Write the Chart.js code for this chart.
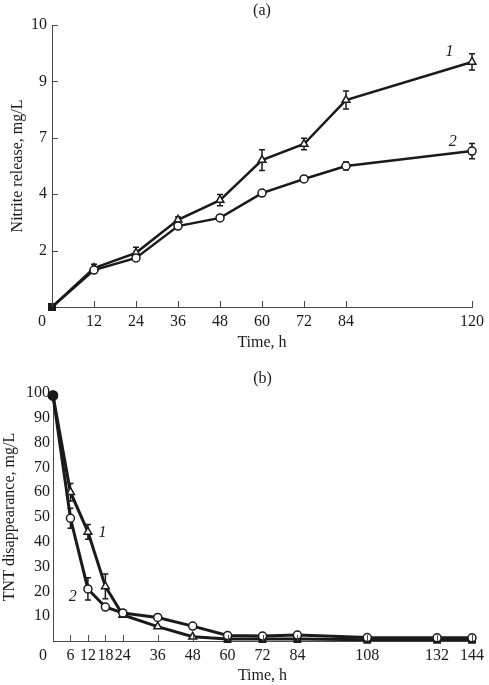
<!DOCTYPE html>
<html>
<head>
<meta charset="utf-8">
<title>Nitrite release and TNT disappearance</title>
<script src="https://cdn.jsdelivr.net/npm/chart.js@4.4.1/dist/chart.umd.min.js"></script>
<style>
  html, body { margin: 0; padding: 0; background: #fff; }
  body { width: 489px; height: 685px; position: relative; overflow: hidden; }
  canvas { position: absolute; left: 0; }
  #chartA { top: 0; }
  #chartB { top: 345px; }
</style>
</head>
<body>
<canvas id="chartA" width="489" height="360"></canvas>
<canvas id="chartB" width="489" height="340"></canvas>
<script>
// Panel (a): nitrite release
const hoursA = [0, 12, 24, 36, 48, 60, 72, 84, 120];
const nitrite1 = [0, 1.38, 1.92, 3.09, 3.79, 5.21, 5.78, 7.34, 8.69];
const nitrite2 = [0, 1.31, 1.74, 2.87, 3.16, 4.04, 4.54, 5.0, 5.53];
const nitriteErr1 = [0, 0.14, 0.2, 0.1, 0.2, 0.37, 0.2, 0.32, 0.29];
const nitriteErr2 = [0, 0.08, 0.08, 0.08, 0.08, 0.1, 0.1, 0.14, 0.27];
const xTicksA = [0, 12, 24, 36, 48, 60, 72, 84, 120];
const yTicksA = [0, 2, 4, 6, 8, 10];
const yLabelsA = ['', '2', '4', '7', '9', '10'];

// Panel (b): TNT disappearance
const hoursB = [0, 6, 12, 18, 24, 36, 48, 60, 72, 84, 108, 132, 144];
const tnt1 = [99, 60, 44, 22, 10.5, 5.8, 1.7, 0.8, 0.8, 0.8, 0.5, 0.5, 0.5];
const tnt2 = [99, 49.5, 21, 13.7, 11.3, 9.5, 6, 2.2, 2, 2.4, 1.4, 1.3, 1.3];
const tntErr1 = [0, 3.5, 3, 5, 0, 0, 0, 0, 0, 0, 0, 0, 0];
const tntErr2 = [0, 4, 4.5, 0, 0, 0, 0, 0, 0, 0, 0, 0, 0];
const xTicksB = [0, 6, 12, 18, 24, 36, 48, 60, 72, 84, 108, 132, 144];
const yTicksB = [0, 10, 20, 30, 40, 50, 60, 70, 80, 90, 100];
const yLabelsB = ['', '10', '20', '30', '40', '50', '60', '70', '80', '90', '100'];

const INK = '#1a1a1a';
const AXIS = '#4a4a4a';
const FONT = "'Liberation Serif', 'DejaVu Serif', serif";

// error bars, inside tick marks, captions and curve numbers
const decorPlugin = {
    id: 'decor',
    beforeDatasetsDraw(chart) {
        const { ctx, scales: { x, y } } = chart;
        ctx.save();
        ctx.strokeStyle = INK;
        ctx.lineWidth = 1.5;
        chart.data.datasets.forEach(ds => {
            ds.data.forEach((pt, i) => {
                const e = ds.errors[i];
                if (!e) return;
                const px = x.getPixelForValue(pt.x);
                const top = y.getPixelForValue(pt.y + e);
                const bot = y.getPixelForValue(pt.y - e);
                ctx.beginPath();
                ctx.moveTo(px, top); ctx.lineTo(px, bot);
                ctx.moveTo(px - 3, top); ctx.lineTo(px + 3, top);
                ctx.moveTo(px - 3, bot); ctx.lineTo(px + 3, bot);
                ctx.stroke();
            });
        });
        ctx.restore();
    },
    afterDraw(chart, args, opts) {
        const { ctx, chartArea, scales: { x, y } } = chart;
        ctx.save();
        ctx.strokeStyle = AXIS;
        ctx.lineWidth = 1;
        ctx.beginPath();
        x.ticks.forEach(t => {
            const px = Math.round(x.getPixelForValue(t.value)) + 0.5;
            ctx.moveTo(px, chartArea.bottom);
            ctx.lineTo(px, chartArea.bottom - 6);
        });
        if (opts.yMarks) {
            y.ticks.forEach(t => {
                if (t.value === 0) return;
                const py = Math.round(y.getPixelForValue(t.value)) + 0.5;
                ctx.moveTo(chartArea.left, py);
                ctx.lineTo(chartArea.left + 6, py);
            });
        }
        ctx.stroke();

        ctx.fillStyle = INK;
        ctx.textAlign = 'center';
        ctx.textBaseline = 'middle';
        ctx.font = '16px ' + FONT;
        ctx.fillText('0', x.getPixelForValue(0) - 10, chartArea.bottom + 15);
        ctx.fillText(opts.panel, (chartArea.left + chartArea.right) / 2, chartArea.top - 14);

        ctx.font = 'italic 16px ' + FONT;
        opts.curveLabels.forEach(c => {
            ctx.fillText(c.text, x.getPixelForValue(c.x), y.getPixelForValue(c.y));
        });
        ctx.restore();
    }
};

function series(xs, ys) {
    return xs.map((h, i) => ({ x: h, y: ys[i] }));
}

function makeDataset(xs, ys, errs, style, opts) {
    return {
        data: series(xs, ys),
        errors: errs,
        borderColor: INK,
        borderWidth: opts.lineWidth,
        pointStyle: ctx => ctx.dataIndex === 0 ? opts.originStyle
            : (opts.filledFrom !== undefined && ctx.raw.x >= opts.filledFrom ? 'rect' : style),
        pointRadius: ctx => ctx.dataIndex === 0 ? 4.5 : (style === 'triangle' ? 4.5 : 4),
        pointBorderWidth: 1.5,
        pointBorderColor: INK,
        pointBackgroundColor: ctx => (ctx.dataIndex === 0 ||
            (opts.filledFrom !== undefined && ctx.raw.x >= opts.filledFrom)) ? INK : '#fff',
        tension: 0,
        clip: false
    };
}

function makeScales(cfg) {
    const font = { family: FONT, size: 16 };
    return {
        x: {
            type: 'linear',
            min: cfg.xTicks[0],
            max: cfg.xTicks[cfg.xTicks.length - 1],
            afterBuildTicks: s => { s.ticks = cfg.xTicks.map(v => ({ value: v })); },
            afterFit: s => { s.height = cfg.xHeight; },
            grid: { display: false, drawTicks: false },
            border: { color: AXIS, width: 1 },
            ticks: {
                font, color: INK, padding: 5, autoSkip: false, maxRotation: 0,
                callback: v => v === 0 ? '' : String(v)
            },
            title: { display: true, text: 'Time, h', font, color: INK, padding: cfg.xTitlePad }
        },
        y: {
            min: cfg.yTicks[0],
            max: cfg.yTicks[cfg.yTicks.length - 1],
            afterBuildTicks: s => { s.ticks = cfg.yTicks.map(v => ({ value: v })); },
            afterFit: s => { s.width = cfg.yWidth; },
            grid: { display: false, drawTicks: false },
            border: { color: AXIS, width: 1 },
            ticks: {
                font, color: INK, padding: cfg.yTickPad, autoSkip: false,
                callback: v => cfg.yLabels[cfg.yTicks.indexOf(v)]
            },
            title: { display: true, text: cfg.yTitle, font, color: INK, padding: cfg.yTitlePad }
        }
    };
}

document.addEventListener('DOMContentLoaded', () => {
    const common = {
        responsive: false,
        animation: false,
        plugins: { legend: { display: false }, tooltip: { enabled: false } }
    };

    new Chart(document.getElementById('chartA'), {
        type: 'line',
        data: {
            datasets: [
                makeDataset(hoursA, nitrite2, nitriteErr2, 'circle', { lineWidth: 2.5, originStyle: 'rect' }),
                makeDataset(hoursA, nitrite1, nitriteErr1, 'triangle', { lineWidth: 2.5, originStyle: 'rect' })
            ]
        },
        options: {
            ...common,
            layout: { padding: { top: 25, right: 12, left: 0, bottom: 0 } },
            scales: makeScales({
                xTicks: xTicksA, yTicks: yTicksA, yLabels: yLabelsA,
                xHeight: 53, yWidth: 52, yTickPad: 5, xTitlePad: 8, yTitlePad: 8,
                yTitle: 'Nitrite release, mg/L'
            }),
            plugins: {
                ...common.plugins,
                decor: {
                    panel: '(a)', yMarks: true,
                    curveLabels: [{ text: '1', x: 113.6, y: 9.04 }, { text: '2', x: 114.5, y: 5.85 }]
                }
            }
        },
        plugins: [decorPlugin]
    });

    new Chart(document.getElementById('chartB'), {
        type: 'line',
        data: {
            datasets: [
                makeDataset(hoursB, tnt2, tntErr2, 'circle', { lineWidth: 3, originStyle: 'circle' }),
                makeDataset(hoursB, tnt1, tntErr1, 'triangle', { lineWidth: 3, originStyle: 'circle', filledFrom: 60 })
            ]
        },
        options: {
            ...common,
            layout: { padding: { top: 48, right: 13, left: 0, bottom: 0 } },
            scales: makeScales({
                xTicks: xTicksB, yTicks: yTicksB, yLabels: yLabelsB,
                xHeight: 44, yWidth: 53, yTickPad: 3, xTitlePad: 0, yTitlePad: 0,
                yTitle: 'TNT disappearance, mg/L'
            }),
            plugins: {
                ...common.plugins,
                decor: {
                    panel: '(b)', yMarks: false,
                    curveLabels: [{ text: '1', x: 17, y: 43.5 }, { text: '2', x: 6.8, y: 17.7 }]
                }
            }
        },
        plugins: [decorPlugin]
    });
});
</script>
</body>
</html>
